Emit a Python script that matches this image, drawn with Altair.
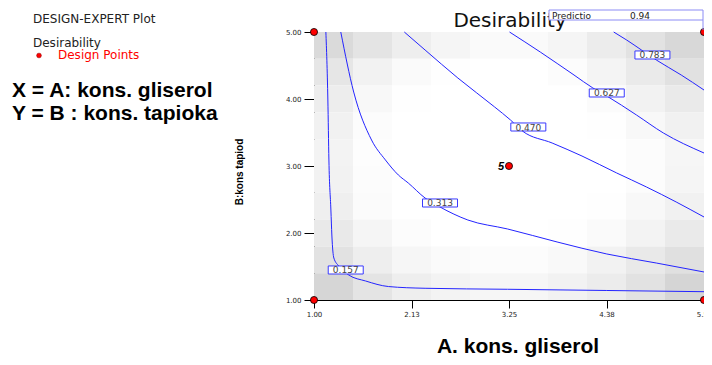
import altair as alt
import numpy as np
import pandas as pd

# ---------------- data ----------------
levels = ["0.157", "0.313", "0.470", "0.627", "0.783"]

c157_x = [1.137, 1.160, 1.172, 1.195, 1.206, 1.229, 1.286, 1.401, 1.595, 1.859, 2.282, 3.233, 4.378, 5.500]
c157_y = [5.000, 3.985, 3.090, 2.343, 1.970, 1.627, 1.507, 1.373, 1.284, 1.201, 1.175, 1.160, 1.142, 1.124]

c313_x = [1.309, 1.458, 1.664, 1.824, 1.973, 2.088, 2.282, 2.454, 2.775, 3.233, 3.805, 4.378, 4.950, 5.500]
c313_y = [5.000, 4.104, 3.388, 3.090, 2.866, 2.746, 2.522, 2.388, 2.194, 2.060, 1.866, 1.687, 1.552, 1.418]

c470_x = [2.042, 2.282, 2.660, 3.084, 3.267, 3.405, 3.748, 4.092, 4.492, 4.836, 5.179, 5.500]
c470_y = [5.000, 4.731, 4.313, 3.881, 3.687, 3.522, 3.343, 3.149, 2.896, 2.687, 2.463, 2.239]

c627_x = [3.256, 3.611, 4.000, 4.218, 4.378, 4.721, 5.031, 5.500]
c627_y = [5.000, 4.701, 4.358, 4.164, 4.045, 3.761, 3.493, 3.194]

c783_x = [4.458, 4.607, 4.779, 4.950, 5.237, 5.500]
c783_y = [5.000, 4.881, 4.731, 4.582, 4.358, 4.134]

label_x = [1.366, 2.454, 3.473, 4.378, 4.905]
label_y = [1.448, 2.448, 3.582, 4.090, 4.657]

design_x = [1.0, 1.0, 5.5, 5.5, 3.25]
design_y = [1.0, 5.0, 1.0, 5.0, 3.0]
design_n = ["", "", "", "", "5"]

x_ticks = [1.0, 2.125, 3.25, 4.375, 5.5]
y_ticks = [1.0, 2.0, 3.0, 4.0, 5.0]

prediction_value = "0.94"

# background shading (grey level, rows top -> bottom, columns left -> right)
shade = [
    [218, 228, 238, 245, 250, 250, 245, 236, 226, 216],
    [230, 242, 250, 254, 255, 255, 252, 244, 234, 225],
    [237, 248, 254, 255, 255, 255, 255, 251, 242, 234],
    [241, 252, 255, 255, 255, 255, 255, 254, 248, 241],
    [243, 253, 255, 255, 255, 255, 255, 255, 252, 246],
    [242, 252, 255, 255, 255, 255, 255, 255, 252, 245],
    [239, 251, 255, 255, 255, 255, 255, 254, 248, 241],
    [233, 245, 252, 255, 255, 255, 254, 250, 243, 234],
    [226, 238, 246, 250, 252, 252, 249, 242, 233, 224],
    [214, 228, 238, 243, 246, 246, 242, 236, 226, 213],
]

# ---------------- tables ----------------
xe = np.linspace(1.0, 5.5, len(shade[0]) + 1)
ye = np.linspace(5.0, 1.0, len(shade) + 1)
cells = []
for r, row in enumerate(shade):
    for c, g in enumerate(row):
        cells.append({"x": xe[c], "x2": xe[c + 1], "y": ye[r + 1], "y2": ye[r],
                      "col": "#{0:02x}{0:02x}{0:02x}".format(g)})
cells = pd.DataFrame(cells)

lines = []
for lev, xs, ys in zip(levels, [c157_x, c313_x, c470_x, c627_x, c783_x],
                       [c157_y, c313_y, c470_y, c627_y, c783_y]):
    for i, (a, b) in enumerate(zip(xs, ys)):
        lines.append({"level": lev, "i": i, "x": a, "y": b})
lines = pd.DataFrame(lines)

labels = pd.DataFrame({"level": levels, "x": label_x, "y": label_y})
points = pd.DataFrame({"x": design_x, "y": design_y, "n": design_n})

xsc = alt.Scale(domain=[1.0, 5.5], nice=False, zero=False)
ysc = alt.Scale(domain=[1.0, 5.0], nice=False, zero=False)

X = alt.X("x:Q", scale=xsc,
          axis=alt.Axis(values=x_ticks, format=".2f", title=None, grid=False,
                        tickSize=8, labelPadding=2, labelFlush=False, labelOverlap=False))
Y = alt.Y("y:Q", scale=ysc,
          axis=alt.Axis(values=y_ticks, format=".2f", title=None, grid=False,
                        tickSize=10, labelPadding=3, labelFlush=False, labelOverlap=False))

bg = alt.Chart(cells).mark_rect(strokeWidth=0).encode(
    x=X, x2="x2:Q", y=Y, y2="y2:Q", color=alt.Color("col:N", scale=None))

contours = alt.Chart(lines).mark_line(
    color="#2424ff", strokeWidth=1, interpolate="monotone"
).encode(x="x:Q", y="y:Q", detail="level:N", order="i:Q")

boxes = alt.Chart(labels).mark_point(
    shape="M-1,-0.23L1,-0.23L1,0.23L-1,0.23Z", size=1225, filled=True,
    fill="white", fillOpacity=1, stroke="#3a3aff", strokeWidth=1, opacity=1
).encode(x="x:Q", y="y:Q")

box_text = alt.Chart(labels).mark_text(
    font="DejaVu Sans", fontSize=9, color="#444444", baseline="middle", dy=0.5
).encode(x="x:Q", y="y:Q", text="level:N")

dpoints = alt.Chart(points).mark_point(
    shape="circle", filled=True, fill="#ff0000", stroke="#000000",
    strokeWidth=0.8, size=50, opacity=1
).encode(x="x:Q", y="y:Q")

dcount = alt.Chart(points).mark_text(
    font="Liberation Sans", fontSize=11, fontWeight="bold", fontStyle="italic",
    align="right", baseline="middle", dx=-5, dy=1, color="#000000"
).encode(x="x:Q", y="y:Q", text="n:N")


def txt(t, x, y, **kw):
    return alt.Chart(alt.Data(values=[{"t": t}])).mark_text(**kw).encode(
        x=alt.value(x), y=alt.value(y), text="t:N")


title = txt("Desirability", 196, -5, font="DejaVu Sans", fontSize=20,
            align="center", baseline="alphabetic", color="#111111")

pred_box = alt.Chart(alt.Data(values=[{"t": 1}])).mark_rect(
    fill="white", stroke="#8c8cf5", strokeWidth=1
).encode(x=alt.value(235), x2=alt.value(389), y=alt.value(-22), y2=alt.value(-12))
pred_rule = alt.Chart(alt.Data(values=[{"t": 1}])).mark_rule(
    color="#8c8cf5", strokeWidth=1
).encode(x=alt.value(389), y=alt.value(-12), y2=alt.value(-2))
pred_t1 = txt("Predictio", 238, -13.5, font="DejaVu Sans", fontSize=9,
              align="left", baseline="alphabetic", color="#222222")
pred_t2 = txt(prediction_value, 316, -13.5, font="DejaVu Sans", fontSize=9,
              align="left", baseline="alphabetic", color="#222222")

t_plot = txt("DESIGN-EXPERT Plot", -281, -9.5, font="DejaVu Sans", fontSize=12,
             align="left", baseline="alphabetic", color="#222222")
t_des = txt("Desirability", -281, 14.5, font="DejaVu Sans", fontSize=12,
            align="left", baseline="alphabetic", color="#222222")
t_dot = alt.Chart(alt.Data(values=[{"t": 1}])).mark_point(
    shape="circle", filled=True, fill="#ff0000", stroke="#990000", strokeWidth=0.6,
    size=22, opacity=1).encode(x=alt.value(-275), y=alt.value(23.5))
t_dp = txt("Design Points", -256, 26.5, font="DejaVu Sans", fontSize=12,
           align="left", baseline="alphabetic", color="#ff0000")
t_xf = txt("X = A: kons. gliserol", -302, 65, font="Liberation Sans", fontSize=21,
           fontWeight="bold", align="left", baseline="alphabetic", color="#000000")
t_yf = txt("Y = B : kons. tapioka", -302, 88, font="Liberation Sans", fontSize=21,
           fontWeight="bold", align="left", baseline="alphabetic", color="#000000")
t_xt = txt("A. kons. gliserol", 204, 321, font="Liberation Sans", fontSize=21,
           fontWeight="bold", align="center", baseline="alphabetic", color="#000000")
t_yt = txt("B:kons tapiod", -74, 140, font="Liberation Sans", fontSize=10,
           fontWeight="bold", align="center", baseline="middle", angle=270,
           color="#000000")

chart = alt.layer(
    bg, contours, boxes, box_text, dpoints, dcount, title, pred_box, pred_rule,
    pred_t1, pred_t2, t_plot, t_des, t_dot, t_dp, t_xf, t_yf, t_xt, t_yt
).properties(
    width=390, height=268,
    autosize=alt.AutoSizeParams(type="none"),
    padding={"left": 306, "top": 24, "right": 0, "bottom": 57},
).configure_view(
    stroke="#000000", strokeWidth=1
).configure_axis(
    domainColor="#000000", tickColor="#000000", labelColor="#222222",
    labelFont="DejaVu Sans", labelFontSize=7, domainWidth=1, tickWidth=1
)

chart.save("out.html", embed_options={"renderer": "svg", "actions": False})
